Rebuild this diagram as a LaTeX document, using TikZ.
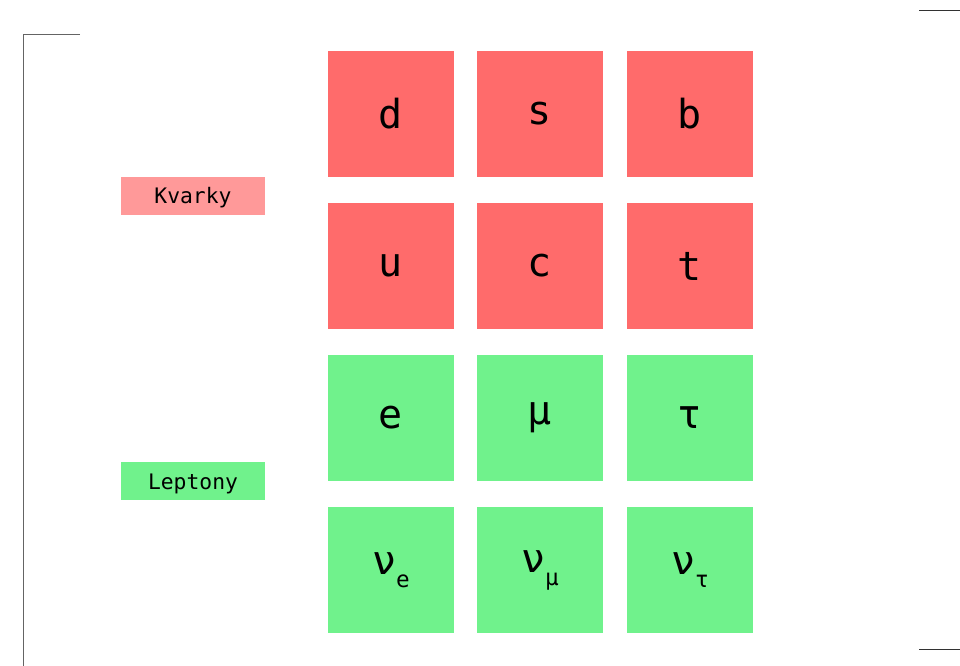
\documentclass[tikz,border=0pt]{standalone}
\usepackage{fontspec}
\setmonofont{DejaVu Sans Mono}
\newfontfamily\cellfont{DejaVu Sans Mono}

\definecolor{quarkred}{RGB}{255,107,107}
\definecolor{quarklabel}{RGB}{255,153,153}
\definecolor{leptongreen}{RGB}{112,242,140}
\definecolor{framegray}{RGB}{100,100,100}

\tikzset{every picture/.style={line width=0.75pt}}
\tikzset{
  cell/.style={draw=none, minimum width=94.5pt, minimum height=94.5pt, inner sep=0pt,
    font=\cellfont\fontsize{30}{36}\selectfont},
  quark/.style={cell, fill=quarkred},
  lepton/.style={cell, fill=leptongreen},
  grouplabel/.style={draw=none, minimum width=108pt, minimum height=28.5pt, inner sep=0pt,
    text height=12pt, text depth=0pt, font=\ttfamily\fontsize{16}{18}\selectfont},
}
\newcommand{\nusub}[1]{ν\raisebox{-0.6ex}{\fontsize{17}{20}\selectfont #1}}

\begin{document}
\begin{tikzpicture}[x=0.75pt,y=0.75pt,yscale=-1,xscale=1]
\useasboundingbox (0,0) rectangle (960,666);

% frame
\draw [color=framegray] (80,35) -- (23,35) -- (23,666) ;
\draw [color={rgb, 255:red, 50; green, 50; blue, 50 }] (919,11) -- (960,11) ;
\draw [color={rgb, 255:red, 50; green, 50; blue, 50 }] (919,649) -- (960,649) ;

% group labels
\node [grouplabel, fill=quarklabel] (kvarky) at (193,196) {Kvarky};
\node [grouplabel, fill=leptongreen] (leptony) at (193,481) {Leptony};

% quarks
\node [quark] (d) at (391,114) {d};
\node [quark] (s) at (540,114) {s};
\node [quark] (b) at (690,114) {b};
\node [quark] (u) at (391,266) {u};
\node [quark] (c) at (540,266) {c};
\node [quark] (t) at (690,266) {t};

% leptons
\node [lepton] (e) at (391,418) {e};
\node [lepton] (mu) at (540,418) {μ};
\node [lepton] (tau) at (690,418) {τ};
\node [lepton] (nue) at (391,570) {\nusub{e}};
\node [lepton] (numu) at (540,570) {\nusub{μ}};
\node [lepton] (nutau) at (690,570) {\nusub{τ}};

\end{tikzpicture}
\end{document}
